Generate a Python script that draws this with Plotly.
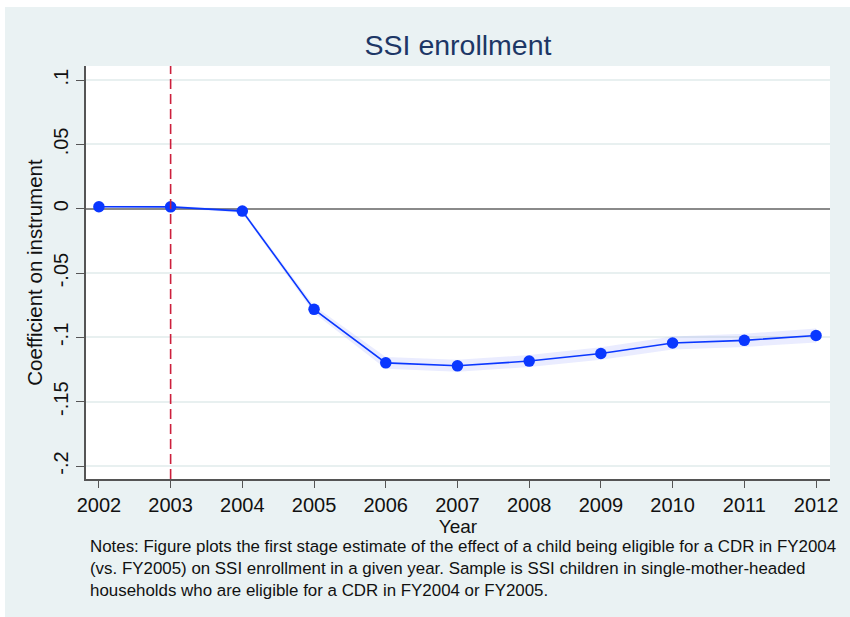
import plotly.graph_objects as go

# Event-study first-stage estimates: SSI enrollment
years = [2002, 2003, 2004, 2005, 2006, 2007, 2008, 2009, 2010, 2011, 2012]
coef = [0.0016, 0.0015, -0.0018, -0.0782, -0.1198, -0.1221, -0.1184, -0.1125, -0.1044, -0.1023, -0.0985]
ci_half = [0.0008, 0.0008, 0.0015, 0.0028, 0.0045, 0.0047, 0.0047, 0.0048, 0.0050, 0.0051, 0.0054]
event_year = 2003

y_ticks = [0.1, 0.05, 0, -0.05, -0.1, -0.15, -0.2]
y_tick_text = [".1", ".05", "0", "-.05", "-.1", "-.15", "-.2"]

notes_lines = [
    "Notes: Figure plots the first stage estimate of the effect of a child being eligible for a CDR in FY2004",
    "(vs. FY2005) on SSI enrollment in a given year. Sample is SSI children in single-mother-headed",
    "households who are eligible for a CDR in FY2004 or FY2005.",
]

lower = [c - h for c, h in zip(coef, ci_half)]
upper = [c + h for c, h in zip(coef, ci_half)]

FONT = "Liberation Sans, Arial, Helvetica, sans-serif"
BLUE = "#0a37ff"
BG = "#eaf2f3"
TXT = "#111111"

W, H = 850, 617
ML, MR, MT, MB = 86, 20, 66, 138
pw, ph = W - ML - MR, H - MT - MB


def px_x(p):
    return (p - ML) / pw


def px_y(p):
    return (H - MB - p) / ph


fig = go.Figure()

# confidence band
fig.add_trace(go.Scatter(x=years, y=lower, mode="lines", line=dict(width=0),
                         hoverinfo="skip", showlegend=False))
fig.add_trace(go.Scatter(x=years, y=upper, mode="lines", line=dict(width=0),
                         fill="tonexty", fillcolor="rgba(20,40,255,0.09)",
                         hoverinfo="skip", showlegend=False))
# point estimates
fig.add_trace(go.Scatter(x=years, y=coef, mode="lines+markers",
                         line=dict(color=BLUE, width=1.6),
                         marker=dict(color=BLUE, size=11.5, line=dict(width=0)),
                         showlegend=False))

shapes = [
    # white page margin strips around the graph region
    dict(type="rect", xref="paper", yref="paper", x0=px_x(0), x1=px_x(W),
         y0=px_y(7), y1=px_y(0), fillcolor="white", line=dict(width=0), layer="above"),
    dict(type="rect", xref="paper", yref="paper", x0=px_x(0), x1=px_x(5),
         y0=px_y(H), y1=px_y(0), fillcolor="white", line=dict(width=0), layer="above"),
    # reference year marker
    dict(type="line", xref="x", yref="paper", x0=event_year, x1=event_year, y0=0, y1=1,
         line=dict(color="#cc1f3c", width=1.6, dash="10px,5px"), layer="above"),
]

# notes block below the axis title
annotations = [dict(text="<br>".join(notes_lines), xref="paper", yref="paper",
                    x=px_x(88), y=px_y(568), xanchor="left", yanchor="middle",
                    align="left", showarrow=False,
                    font=dict(family=FONT, size=16.9, color=TXT))]

fig.update_layout(
    width=W, height=H,
    margin=dict(l=ML, r=MR, t=MT, b=MB, pad=0),
    paper_bgcolor=BG, plot_bgcolor="white",
    font=dict(family=FONT, color=TXT),
    title=dict(text="SSI enrollment", xref="paper", x=0.5, xanchor="center",
               y=1 - 45 / H, yanchor="middle",
               font=dict(family=FONT, size=28.5, color="#1d3766")),
    xaxis=dict(range=[2001.82, 2012.195], tickvals=years, ticks="outside", ticklen=7,
               tickwidth=1.3, tickcolor="#555555", showline=True, linecolor="#555555",
               linewidth=1.5, showgrid=False, zeroline=False,
               tickfont=dict(size=20, color=TXT),
               title=dict(text="Year", font=dict(size=19, color=TXT), standoff=2)),
    yaxis=dict(range=[-0.2101, 0.111], tickvals=y_ticks, ticktext=y_tick_text,
               tickangle=-90, ticks="outside", ticklen=8, tickwidth=1.3,
               tickcolor="#555555", showline=True, linecolor="#555555", linewidth=1.5,
               showgrid=True, gridcolor="#e8f0f0", gridwidth=1.5,
               zeroline=True, zerolinecolor="#8a8a8a", zerolinewidth=1.5,
               tickfont=dict(size=20, color=TXT),
               title=dict(text="Coefficient on instrument",
                          font=dict(size=20.5, color=TXT), standoff=2)),
    shapes=shapes,
    annotations=annotations,
)

fig.write_html("out.html")
